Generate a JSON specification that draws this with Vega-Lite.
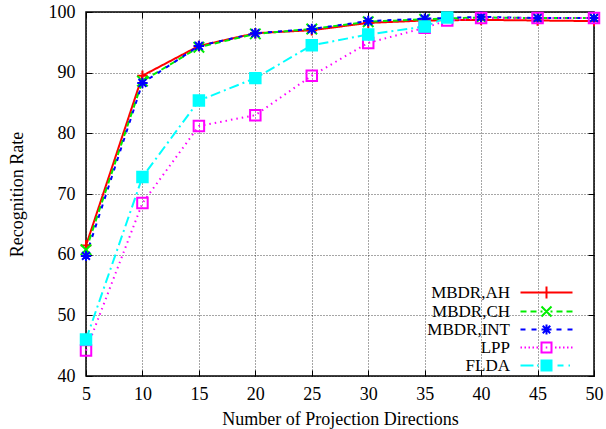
{
  "$schema": "https://vega.github.io/schema/vega-lite/v6.json",
  "width": 508,
  "height": 364,
  "autosize": {"type": "none"},
  "padding": {"left": 86, "top": 12, "right": 12, "bottom": 53},
  "background": "white",
  "config": {
    "font": "Liberation Serif",
    "view": {"stroke": "black", "strokeWidth": 1.5},
    "axis": {
      "labelFont": "Liberation Serif", "labelFontSize": 18, "labelColor": "black", "labelFlush": false,
      "titleFont": "Liberation Serif", "titleFontSize": 18, "titleFontWeight": "normal", "titleColor": "black",
      "domain": false, "tickColor": "black", "tickSize": -6, "tickWidth": 1,
      "gridColor": "black", "gridDash": [1, 2], "gridOpacity": 0.7, "gridWidth": 1
    }
  },
  "data": {"values": [
    {"series": "MBDR,AH", "n": 5, "rate": 61.5},
    {"series": "MBDR,AH", "n": 10, "rate": 89.5},
    {"series": "MBDR,AH", "n": 15, "rate": 94.4},
    {"series": "MBDR,AH", "n": 20, "rate": 96.5},
    {"series": "MBDR,AH", "n": 25, "rate": 97.0},
    {"series": "MBDR,AH", "n": 30, "rate": 98.2},
    {"series": "MBDR,AH", "n": 35, "rate": 98.6},
    {"series": "MBDR,AH", "n": 40, "rate": 98.7},
    {"series": "MBDR,AH", "n": 45, "rate": 98.6},
    {"series": "MBDR,AH", "n": 50, "rate": 98.5},
    {"series": "MBDR,CH", "n": 5, "rate": 60.8},
    {"series": "MBDR,CH", "n": 10, "rate": 88.6},
    {"series": "MBDR,CH", "n": 15, "rate": 94.2},
    {"series": "MBDR,CH", "n": 20, "rate": 96.4},
    {"series": "MBDR,CH", "n": 25, "rate": 97.2},
    {"series": "MBDR,CH", "n": 30, "rate": 98.4},
    {"series": "MBDR,CH", "n": 35, "rate": 98.8},
    {"series": "MBDR,CH", "n": 40, "rate": 99.1},
    {"series": "MBDR,CH", "n": 45, "rate": 99.0},
    {"series": "MBDR,CH", "n": 50, "rate": 99.0},
    {"series": "MBDR,INT", "n": 5, "rate": 59.8},
    {"series": "MBDR,INT", "n": 10, "rate": 88.3},
    {"series": "MBDR,INT", "n": 15, "rate": 94.4},
    {"series": "MBDR,INT", "n": 20, "rate": 96.5},
    {"series": "MBDR,INT", "n": 25, "rate": 97.2},
    {"series": "MBDR,INT", "n": 30, "rate": 98.5},
    {"series": "MBDR,INT", "n": 35, "rate": 98.9},
    {"series": "MBDR,INT", "n": 40, "rate": 99.2},
    {"series": "MBDR,INT", "n": 45, "rate": 99.0},
    {"series": "MBDR,INT", "n": 50, "rate": 99.0},
    {"series": "LPP", "n": 5, "rate": 44.2},
    {"series": "LPP", "n": 10, "rate": 68.5},
    {"series": "LPP", "n": 15, "rate": 81.2},
    {"series": "LPP", "n": 20, "rate": 83.0},
    {"series": "LPP", "n": 25, "rate": 89.5},
    {"series": "LPP", "n": 30, "rate": 94.9},
    {"series": "LPP", "n": 35, "rate": 97.4},
    {"series": "LPP", "n": 37, "rate": 98.6},
    {"series": "LPP", "n": 40, "rate": 99.0},
    {"series": "LPP", "n": 45, "rate": 99.0},
    {"series": "LPP", "n": 50, "rate": 99.0},
    {"series": "FLDA", "n": 5, "rate": 46.0},
    {"series": "FLDA", "n": 10, "rate": 72.8},
    {"series": "FLDA", "n": 15, "rate": 85.4},
    {"series": "FLDA", "n": 20, "rate": 89.1},
    {"series": "FLDA", "n": 25, "rate": 94.5},
    {"series": "FLDA", "n": 30, "rate": 96.3},
    {"series": "FLDA", "n": 35, "rate": 97.6},
    {"series": "FLDA", "n": 37, "rate": 99.1}
  ]},
  "layer": [
    {
      "mark": {"type": "line", "strokeWidth": 2},
      "encoding": {
        "x": {"field": "n", "type": "quantitative",
          "scale": {"domain": [5, 50], "nice": false, "zero": false},
          "axis": {"values": [5, 10, 15, 20, 25, 30, 35, 40, 45, 50], "title": "Number of Projection Directions", "labelPadding": 15, "titlePadding": 7}},
        "y": {"field": "rate", "type": "quantitative",
          "scale": {"domain": [40, 100], "nice": false, "zero": false},
          "axis": {"values": [40, 50, 60, 70, 80, 90, 100], "title": "Recognition Rate", "labelPadding": 17, "titlePadding": 22}},
        "color": {"field": "series", "type": "nominal",
          "scale": {"domain": ["MBDR,AH", "MBDR,CH", "MBDR,INT", "LPP", "FLDA"], "range": ["#ff0000", "#00ee00", "#0000ff", "#ff00ff", "#00ffff"]},
          "legend": {
            "orient": "none", "legendX": 452, "legendY": 272, "title": null,
            "labelFont": "Liberation Serif", "labelFontSize": 17, "labelColor": "black",
            "labelAlign": "right", "labelOffset": -45, "labelLimit": 300,
            "symbolSize": 100, "symbolStrokeWidth": 2,
            "symbolType": {"expr": "datum.value === 'MBDR,AH' ? 'M-5.2,0H5.2M0,-1.2V1.2' : datum.value === 'MBDR,CH' ? 'M-5.2,0H-4M-3.2,0H-2M-1.2,0H-0.8M0.8,0H1.2M2,0H3.2M4,0H5.2M-1,-1L1,1M-1,1L1,-1' : datum.value === 'MBDR,INT' ? 'M-5.2,0H-4.2M-3,0H-2M2,0H3M4.2,0H5.2M-1,0H1M0,-1V1M-0.75,-0.75L0.75,0.75M-0.75,0.75L0.75,-0.75' : datum.value === 'LPP' ? 'M-5.2,0h0.3M-4.4,0h0.3M-3.6,0h0.3M-2.8,0h0.3M-2,0h0.3M1.7,0h0.3M2.5,0h0.3M3.3,0h0.3M4.1,0h0.3M4.9,0h0.3M-1,-1H1V1H-1ZM-0.15,0h0.3' : 'M-5.2,0H-2.6M-1.9,0h0.3M2.2,0H3.4M4.4,0h0.3M-1,-1H1V1H-1Z'"},
            "symbolFillColor": {"expr": "datum.value === 'FLDA' ? '#00ffff' : 'transparent'"},
            "rowPadding": -3.6, "padding": 0
          }},
        "strokeDash": {"field": "series", "type": "nominal",
          "scale": {"domain": ["FLDA", "LPP", "MBDR,INT", "MBDR,CH", "MBDR,AH"], "range": [[10, 4, 2, 4], [1.5, 4], [4, 6], [6, 4], [1, 0]]},
          "legend": null}
      }
    },
    {
      "mark": {"type": "point", "filled": false, "strokeWidth": 2, "size": 110, "opacity": 1},
      "encoding": {
        "x": {"field": "n", "type": "quantitative",
          "axis": {"orient": "top", "labels": false, "title": null, "grid": false, "values": [5, 10, 15, 20, 25, 30, 35, 40, 45, 50]}},
        "y": {"field": "rate", "type": "quantitative",
          "axis": {"orient": "right", "labels": false, "title": null, "grid": false, "values": [40, 50, 60, 70, 80, 90, 100]}},
        "shape": {"field": "series", "type": "nominal",
          "scale": {"domain": ["FLDA", "LPP", "MBDR,INT", "MBDR,CH", "MBDR,AH"], "range": ["M-1,-1H1V1H-1Z", "M-1,-1H1V1H-1Z", "M-1,0H1M0,-1V1M-0.75,-0.75L0.75,0.75M-0.75,0.75L0.75,-0.75", "M-1,-1L1,1M-1,1L1,-1", "M-1,0H1M0,-1V1"]},
          "legend": null},
        "stroke": {"field": "series", "type": "nominal",
          "scale": {"domain": ["FLDA", "LPP", "MBDR,INT", "MBDR,CH", "MBDR,AH"], "range": ["#00ffff", "#ff00ff", "#0000ff", "#00ee00", "#ff0000"]},
          "legend": null},
        "fill": {"field": "series", "type": "nominal",
          "scale": {"domain": ["FLDA", "LPP", "MBDR,INT", "MBDR,CH", "MBDR,AH"], "range": ["#00ffff", "transparent", "transparent", "transparent", "transparent"]},
          "legend": null}
      }
    }
  ],
  "resolve": {"axis": {"x": "independent", "y": "independent"}}
}
